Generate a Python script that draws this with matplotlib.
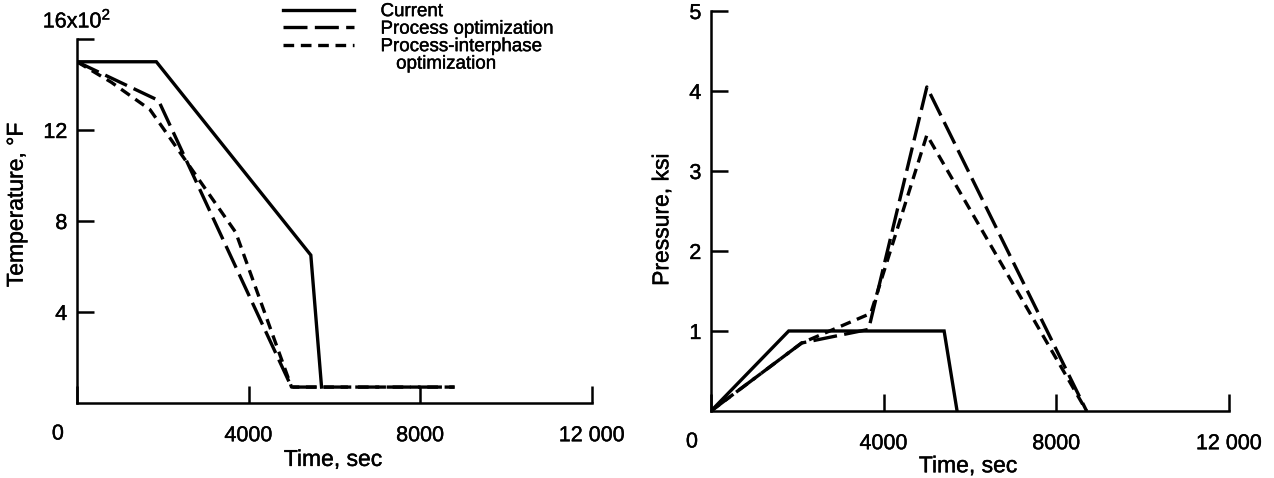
import matplotlib
matplotlib.use("Agg")
import matplotlib.pyplot as plt
from matplotlib.lines import Line2D
from matplotlib.text import Text
import matplotlib.patheffects as pe

plt.rcParams['font.family'] = ['Liberation Sans', 'DejaVu Sans']
plt.rcParams['mathtext.fontset'] = 'custom'
plt.rcParams['mathtext.rm'] = 'Liberation Sans'
plt.rcParams['mathtext.it'] = 'Liberation Sans:italic'

# ---- Data: left panel (temperature, units of 100 degF) ----
cur_t_T = [0, 1850, 5450, 5700]
cur_T = [15.0, 15.0, 6.5, 0.7]
popt_t_T = [0, 1900, 5000, 8800]
popt_T = [15.0, 13.3, 0.7, 0.7]
pio_t_T = [0, 800, 1700, 2000, 3700, 5000, 8800]
pio_T = [15.0, 14.1, 12.9, 12.1, 7.5, 0.7, 0.7]

# ---- Data: right panel (pressure, ksi) ----
cur_t_P = [0, 1800, 5400, 5700]
cur_P = [0.0, 1.0, 1.0, 0.0]
popt_t_P = [0, 2100, 3650, 5000, 8700]
popt_P = [0.0, 0.85, 1.02, 4.05, 0.0]
pio_t_P = [0, 2100, 3700, 5000, 8700]
pio_P = [0.0, 0.85, 1.22, 3.45, 0.0]

x_ticks = [0, 4000, 8000, 12000]
x_labels = ['', '4000', '8000', '12 000']
temp_ticks = [4, 8, 12, 16]
temp_labels = ['4', '8', '12', '']
pres_ticks = [1, 2, 3, 4, 5]
pres_labels = ['1', '2', '3', '4', '5']

series_names = ['Current', 'Process optimization', 'Process-interphase', '   optimization']

LW = 2.4
LONG = (7.2, 2.2)
SHORT = (3.2, 2.0)
FS = 15.5
LFS = 16.5

fig = plt.figure(figsize=(12.74, 4.78), dpi=100)
axL = fig.add_axes([0.0604, 0.1569, 0.4042, 0.7615])
axR = fig.add_axes([0.5581, 0.1402, 0.4066, 0.8368])


def style(ax, ylim, yticks, ylabels):
    ax.set_xlim(0, 12000)
    ax.set_ylim(*ylim)
    for s in ['top', 'right']:
        ax.spines[s].set_visible(False)
    for s in ['left', 'bottom']:
        ax.spines[s].set_linewidth(1.8)
    ax.set_xticks(x_ticks)
    ax.set_xticklabels(x_labels, fontsize=FS)
    ax.set_yticks(yticks)
    ax.set_yticklabels(ylabels, fontsize=FS)
    ax.tick_params(axis='both', direction='in', length=12, width=1.8)
    ax.tick_params(axis='x', pad=16)
    ax.tick_params(axis='y', pad=7)
    ax.annotate('0', xy=(0, 0), xycoords='axes fraction', xytext=(-19, -31),
                textcoords='offset pixels', ha='center', va='center', fontsize=FS)
    ax.set_xlabel('Time, sec', fontsize=LFS)
    ax.xaxis.label.set_va('center')
    ax.set_ylabel(ax.get_ylabel(), fontsize=LFS)


# Left panel
axL.plot(cur_t_T, cur_T, color='black', lw=LW, solid_joinstyle='miter')
axL.plot(popt_t_T, popt_T, color='black', lw=LW, linestyle=(0, LONG))
axL.plot(pio_t_T, pio_T, color='black', lw=LW, linestyle=(0, SHORT))
axL.set_ylabel('Temperature, °F')
style(axL, (0, 16), temp_ticks, temp_labels)
axL.yaxis.label.set_va('center')
axL.yaxis.set_label_coords(-0.118, 0.544)
axL.xaxis.set_label_coords(0.497, -0.155)
axL.annotate('16x10$^2$', xy=(0, 16), xycoords='data', xytext=(0, 18),
             textcoords='offset pixels', ha='center', va='center', fontsize=FS)

# Right panel
axR.plot(cur_t_P, cur_P, color='black', lw=LW, solid_joinstyle='miter')
axR.plot(popt_t_P, popt_P, color='black', lw=LW, linestyle=(0, LONG))
axR.plot(pio_t_P, pio_P, color='black', lw=LW, linestyle=(0, SHORT))
axR.set_ylabel('Pressure, ksi')
style(axR, (0, 5), pres_ticks, pres_labels)
axR.yaxis.label.set_va('center')
axR.yaxis.set_label_coords(-0.095, 0.478)
axR.xaxis.set_label_coords(0.496, -0.137)

# Legend
handles = [
    Line2D([], [], color='black', lw=LW),
    Line2D([], [], color='black', lw=LW, linestyle=(0, LONG)),
    Line2D([], [], color='black', lw=LW, linestyle=(0, SHORT)),
    Line2D([], [], linestyle='none'),
]
fig.legend(handles, series_names, loc='upper left',
           bbox_to_anchor=(283 / 1274, 1 - 3 / 478), frameon=False,
           fontsize=13.5, handlelength=3.8, handletextpad=1.4,
           borderpad=0, borderaxespad=0, labelspacing=0.02)

# Slightly heavier text, like the scanned original
for t in fig.findobj(Text):
    t.set_path_effects([pe.withStroke(linewidth=0.3, foreground='black')])

fig.savefig('out.png', dpi=100)
